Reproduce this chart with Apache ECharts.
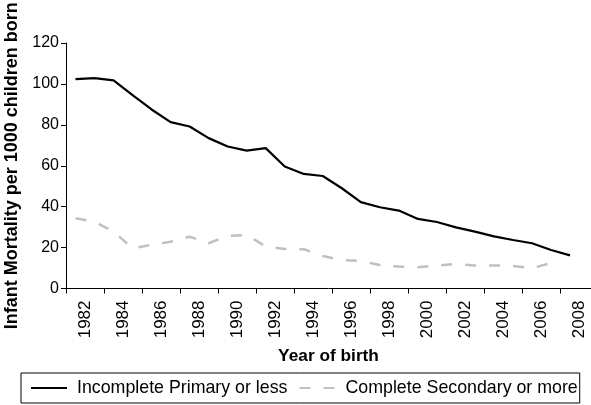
<!DOCTYPE html>
<html>
<head>
<meta charset="utf-8">
<script src="https://cdn.jsdelivr.net/npm/echarts@6/dist/echarts.min.js"></script>
<style>
  html, body { margin: 0; padding: 0; background: #fff; }
  #chart { width: 591px; height: 405px; }
</style>
</head>
<body>
<div id="chart"></div>
<script>
// years of birth, one point per year
const years = [1982, 1983, 1984, 1985, 1986, 1987, 1988, 1989, 1990, 1991, 1992, 1993, 1994, 1995,
  1996, 1997, 1998, 1999, 2000, 2001, 2002, 2003, 2004, 2005, 2006, 2007, 2008];
// infant mortality per 1000 children born
const incompletePrimary = [102.3, 102.8, 101.7, 94.5, 87.5, 81.3, 79.2, 73.5, 69.4, 67.4, 68.6, 59.6, 56.0, 55.0,
  49.0, 42.2, 39.7, 38.1, 34.0, 32.5, 29.9, 27.8, 25.5, 23.7, 22.1, 18.8, 16.2];
const completeSecondary = [34.3, 32.7, 27.8, 19.7, 21.3, 22.9, 25.3, 22.1, 25.7, 26.2, 20.5, 19.3, 19.2, 15.9,
  13.9, 13.4, 11.5, 10.7, 10.4, 11.2, 12.0, 11.3, 11.3, 11.0, 9.9, 12.5];
// tick marks sit between years, labels every second year
const tickLabels = [1982, 1984, 1986, 1988, 1990, 1992, 1994, 1996, 1998, 2000, 2002, 2004, 2006, 2008];

const font = 'Liberation Sans, Arial, sans-serif';

const pairs = (vals) => vals.map((v, i) => [years[i], v]);

const chart = echarts.init(document.getElementById('chart'));
chart.setOption({
  animation: false,
  textStyle: { fontFamily: font, color: '#000' },
  grid: { left: 66, right: 0, top: 43, bottom: 116.5, outerBoundsMode: 'none', containLabel: false },
  legend: {
    left: 21,
    top: 373,
    orient: 'horizontal',
    borderColor: '#000',
    borderWidth: 1,
    padding: [6, 2, 6, 9],
    itemWidth: 36,
    itemHeight: 14,
    itemGap: 11,
    itemStyle: { opacity: 0 },
    textStyle: { fontSize: 17.8, color: '#000', fontFamily: font, padding: [0, 0, 0, 5] },
    data: ['Incomplete Primary or less', 'Complete Secondary or more']
  },
  xAxis: {
    type: 'value',
    min: 1981.5,
    max: 2009.1,
    name: 'Year of birth',
    nameLocation: 'middle',
    nameGap: 59,
    nameTextStyle: { fontSize: 17.3, fontWeight: 'bold', color: '#000' },
    splitLine: { show: false },
    axisLine: { show: true, lineStyle: { color: '#000', width: 1 } },
    axisTick: {
      show: true,
      length: 5,
      lineStyle: { color: '#000' },
      customValues: tickLabels.map(y => y - 0.5)
    },
    axisLabel: {
      rotate: 90,
      margin: 12,
      fontSize: 17,
      color: '#000',
      customValues: tickLabels.map(y => y + 0.5),
      formatter: v => String(Math.floor(v))
    }
  },
  yAxis: {
    type: 'value',
    min: 0,
    max: 120,
    interval: 20,
    name: 'Infant Mortality per 1000 children born',
    nameLocation: 'middle',
    nameGap: 41,
    nameTextStyle: { fontSize: 18, fontWeight: 'bold', color: '#000' },
    splitLine: { show: false },
    axisLine: { show: true, lineStyle: { color: '#000', width: 1 } },
    axisTick: { show: true, length: 5, lineStyle: { color: '#000' } },
    axisLabel: { fontSize: 16, color: '#000', margin: 7 }
  },
  series: [
    {
      name: 'Incomplete Primary or less',
      type: 'line',
      data: pairs(incompletePrimary),
      showSymbol: false,
      symbol: 'none',
      lineStyle: { color: '#000', width: 2.2 },
      itemStyle: { color: '#000' }
    },
    {
      name: 'Complete Secondary or more',
      type: 'line',
      data: pairs(completeSecondary),
      showSymbol: false,
      symbol: 'none',
      lineStyle: { color: '#c0c0c0', width: 2.5, type: [11, 13] },
      itemStyle: { color: '#c0c0c0' }
    }
  ]
});
</script>
</body>
</html>
